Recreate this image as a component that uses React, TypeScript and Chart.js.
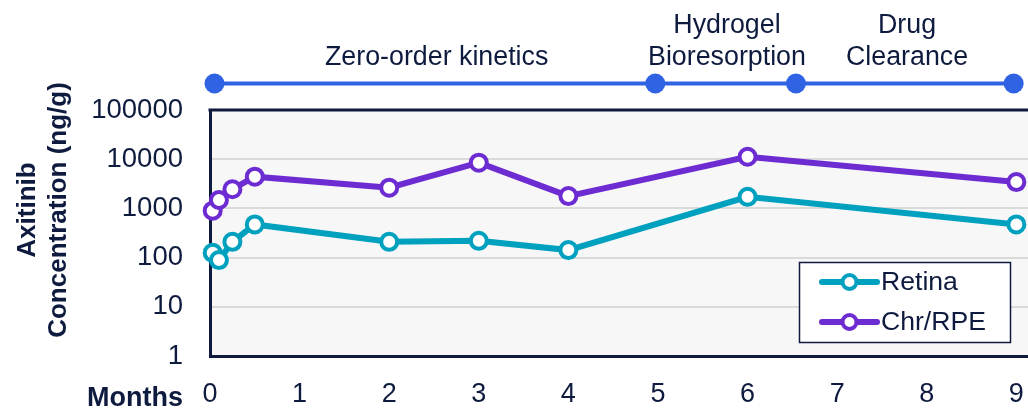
import React, { useEffect, useRef } from "react";
import { Chart, registerables } from "chart.js";

Chart.register(...registerables);

const xTicks = [0, 1, 2, 3, 4, 5, 6, 7, 8, 9];
const yTicks = [1, 10, 100, 1000, 10000, 100000];

const retinaMonths = [0.03, 0.1, 0.25, 0.5, 2, 3, 4, 6, 9];
const retinaValues = [125, 89, 209, 472, 209, 219, 142, 1720, 472];

const chrMonths = [0.03, 0.1, 0.25, 0.5, 2, 3, 4, 6, 9];
const chrValues = [900, 1480, 2450, 4420, 2640, 8500, 1780, 11200, 3430];

const phaseMarkers = [0.05, 4.97, 6.54, 8.97];
const phaseLabels = [["Zero-order kinetics"], ["Hydrogel", "Bioresorption"], ["Drug", "Clearance"]];
const phaseLabelCenters = [2.53, 5.77, 7.78];

const seriesNames = ["Retina", "Chr/RPE"];
const yTitle = ["Axitinib", "Concentration (ng/g)"];
const xTitle = "Months";

const NAVY = "#0e1b3f";
const TEAL = "#00a0bf";
const PURPLE = "#6d2bd2";
const BLUE = "#2f63e3";
const FONT = '"Liberation Sans", Arial, sans-serif';

const decor = {
  id: "decor",
  beforeDraw(chart: any) {
    const { ctx, chartArea: a } = chart;
    ctx.save();
    ctx.fillStyle = "#f7f7f7";
    ctx.fillRect(a.left, a.top, a.right - a.left, a.bottom - a.top);
    ctx.restore();
  },
  afterDraw(chart: any) {
    const { ctx, chartArea: a } = chart;
    const xs = chart.scales.x;
    ctx.save();
    // top border
    ctx.strokeStyle = NAVY;
    ctx.lineWidth = 3;
    ctx.beginPath();
    ctx.moveTo(a.left - 1.5, a.top);
    ctx.lineTo(a.right, a.top);
    ctx.stroke();

    // timeline
    const ty = 83.5;
    ctx.strokeStyle = BLUE;
    ctx.lineWidth = 4;
    ctx.beginPath();
    ctx.moveTo(xs.getPixelForValue(phaseMarkers[0]), ty);
    ctx.lineTo(xs.getPixelForValue(phaseMarkers[phaseMarkers.length - 1]), ty);
    ctx.stroke();
    ctx.fillStyle = BLUE;
    phaseMarkers.forEach((m) => {
      ctx.beginPath();
      ctx.arc(xs.getPixelForValue(m), ty, 10, 0, Math.PI * 2);
      ctx.fill();
    });

    // phase labels
    ctx.fillStyle = NAVY;
    ctx.font = `26.8px ${FONT}`;
    ctx.textAlign = "center";
    ctx.textBaseline = "alphabetic";
    phaseLabels.forEach((lines, i) => {
      const cx = xs.getPixelForValue(phaseLabelCenters[i]);
      const n = lines.length;
      lines.forEach((t, j) => {
        const by = 65 - (n - 1 - j) * 32;
        ctx.fillText(t, cx, by);
      });
    });

    // x title
    ctx.font = `bold 27px ${FONT}`;
    ctx.textAlign = "right";
    ctx.fillText(xTitle, 183, 406);

    // y title
    ctx.font = `bold 26px ${FONT}`;
    ctx.textAlign = "center";
    const baseXs = [35, 66];
    yTitle.forEach((t, i) => {
      ctx.save();
      ctx.translate(baseXs[i], 210);
      ctx.rotate(-Math.PI / 2);
      ctx.fillText(t, 0, 0);
      ctx.restore();
    });

    // legend
    const bx = 799.5, by = 262.5, bw = 211, bh = 80;
    ctx.fillStyle = "#ffffff";
    ctx.fillRect(bx, by, bw, bh);
    ctx.strokeStyle = NAVY;
    ctx.lineWidth = 1.5;
    ctx.strokeRect(bx, by, bw, bh);
    chart.data.datasets.forEach((ds: any, i: number) => {
      const ly = 282 + i * 40;
      ctx.strokeStyle = ds.borderColor;
      ctx.lineWidth = 6;
      ctx.lineCap = "round";
      ctx.beginPath();
      ctx.moveTo(822, ly);
      ctx.lineTo(877, ly);
      ctx.stroke();
      ctx.fillStyle = "#ffffff";
      ctx.lineWidth = 4;
      ctx.beginPath();
      ctx.arc(849.5, ly, 7, 0, Math.PI * 2);
      ctx.fill();
      ctx.stroke();
      ctx.fillStyle = NAVY;
      ctx.font = `26.6px ${FONT}`;
      ctx.textAlign = "left";
      ctx.textBaseline = "middle";
      ctx.fillText(ds.label, 881, ly + 1);
    });
    ctx.restore();
  },
};

export default function App() {
  const ref = useRef<HTMLCanvasElement | null>(null);
  useEffect(() => {
    document.body.style.margin = "0";
    const canvas = ref.current;
    if (!canvas) return;
    const mk = (label: string, xs: number[], ys: number[], color: string) => ({
      label,
      data: xs.map((x, i) => ({ x, y: ys[i] })),
      borderColor: color,
      backgroundColor: color,
      borderWidth: 6,
      pointRadius: 8,
      pointHoverRadius: 8,
      pointBorderWidth: 4,
      pointBackgroundColor: "#ffffff",
      pointBorderColor: color,
      tension: 0,
      clip: false as any,
    });
    const chart = new Chart(canvas, {
      type: "line",
      data: {
        datasets: [
          mk(seriesNames[0], retinaMonths, retinaValues, TEAL),
          mk(seriesNames[1], chrMonths, chrValues, PURPLE),
        ],
      },
      options: {
        responsive: false,
        animation: false,
        devicePixelRatio: 1,
        layout: { autoPadding: false, padding: { top: 110, left: 0, right: 0, bottom: 0 } },
        plugins: { legend: { display: false }, tooltip: { enabled: false } },
        scales: {
          x: {
            type: "linear",
            min: 0,
            max: 9.13,
            afterBuildTicks: (s: any) => {
              s.ticks = xTicks.map((v) => ({ value: v }));
            },
            afterFit: (s: any) => {
              s.height = 52;
              s.paddingLeft = 0;
              s.paddingRight = 0;
            },
            grid: { display: false, drawTicks: false },
            border: { display: true, color: NAVY, width: 3 },
            ticks: {
              color: NAVY,
              font: { family: FONT, size: 27 },
              padding: 22,
              maxRotation: 0,
              autoSkip: false,
              callback: (v: any) => String(v),
            },
          },
          y: {
            type: "logarithmic",
            min: 1,
            max: 100000,
            afterBuildTicks: (s: any) => {
              s.ticks = yTicks.map((v) => ({ value: v }));
            },
            afterFit: (s: any) => {
              s.width = 210;
              s.paddingTop = 0;
              s.paddingBottom = 0;
            },
            grid: {
              drawTicks: false,
              lineWidth: 2,
              color: (c: any) =>
                c.tick && (c.tick.value === 1 || c.tick.value === 100000) ? "rgba(0,0,0,0)" : "#dadada",
            },
            border: { display: true, color: NAVY, width: 3 },
            ticks: {
              color: NAVY,
              font: { family: FONT, size: 27.5 },
              padding: 27,
              autoSkip: false,
              callback: (v: any) => String(v),
            },
          },
        },
      },
      plugins: [decor],
    } as any);
    return () => chart.destroy();
  }, []);
  return <canvas ref={ref} width={1028} height={408} style={{ display: "block" }} />;
}
